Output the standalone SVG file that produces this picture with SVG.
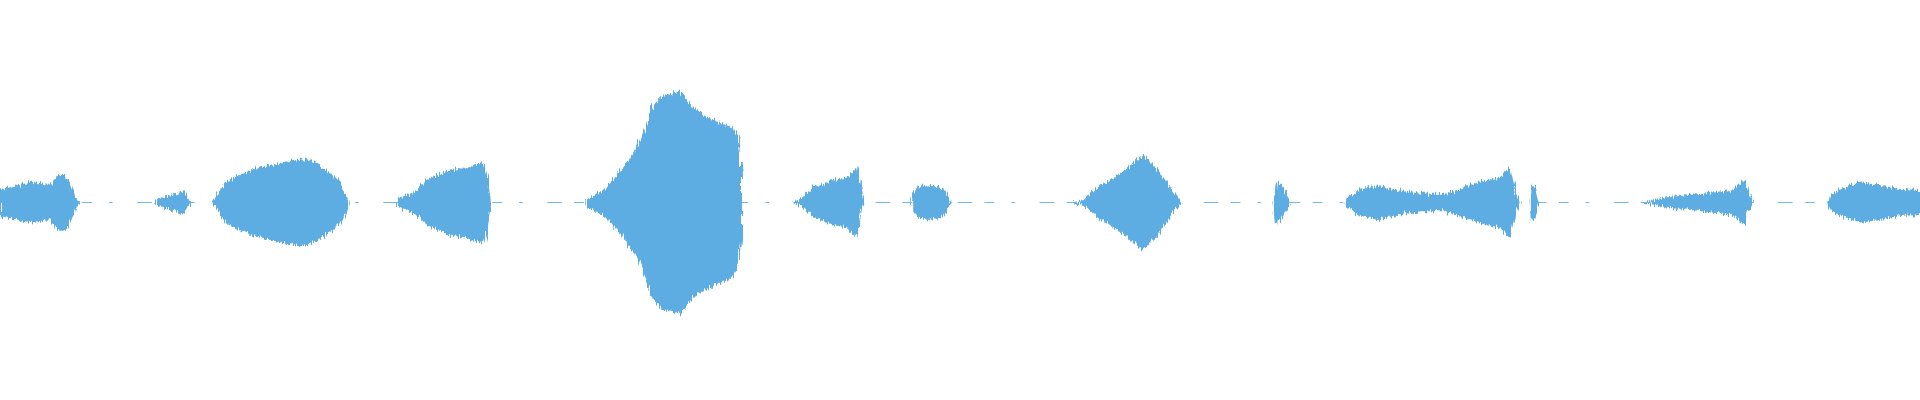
<svg xmlns="http://www.w3.org/2000/svg" width="1920" height="400" viewBox="0 0 1920 400">
<style>.w{fill:#5dade2}.c{stroke:#5dade2;stroke-width:0.7;stroke-dasharray:8 14 3 20 12 10}</style>
<defs><filter id="j" x="-5%" y="-20%" width="110%" height="140%"><feTurbulence type="fractalNoise" baseFrequency="0.9 0.05" numOctaves="2" seed="3"/><feDisplacementMap in="SourceGraphic" scale="7" yChannelSelector="R" xChannelSelector="G"/></filter></defs>
<rect width="1920" height="400" fill="#fff"/>
<g transform="scale(1.2245 1.25)">
<line class="c" x1="0" y1="162" x2="1568" y2="162"/>
<g filter="url(#j)" class="w">
<path d="M0,152 L10,149 20,147 30,146 40,148 48,140 53,140 58,148 62,158 65,162 62,166 58,176 53,186 48,184 40,176 30,178 20,177 10,175 0,172Z"/>
<path d="M127,160 L135,157 145,155 150,153 153,158 156,162 153,166 150,171 145,169 135,167 127,164Z"/>
<path d="M173,162 L178,155 185,145 200,138 215,133 230,130 245,127 252,128 262,133 272,140 280,148 285,162 280,176 272,184 262,191 252,196 245,197 230,194 215,191 200,186 185,179 178,169Z"/>
<path d="M325,158 L330,157 340,152 350,143 365,137 380,134 395,130 398,140 401,162 398,184 395,194 380,190 365,187 350,181 340,172 330,167 325,166Z"/>
<path d="M478,160 L490,154 500,145 510,132 520,118 528,100 533,85 540,77 550,75 555,72 565,85 575,92 585,97 598,102 603,110 606,140 606,162 606,184 603,214 598,222 585,227 575,232 565,239 555,252 550,249 540,247 533,239 528,224 520,206 510,192 500,179 490,170 478,164Z"/>
<path d="M648,162 L655,158 665,150 680,144 692,142 700,134 703,150 706,162 703,174 700,190 692,182 680,180 665,174 655,166Z"/>
<path d="M745,155 L750,150 760,148 770,151 777,162 770,173 760,176 750,174 745,169Z"/>
<path d="M875,162 L885,160 893,152 905,145 920,135 933,124 945,135 955,150 962,158 965,162 962,166 955,174 945,189 933,200 920,189 905,179 893,172 885,164Z"/>
<path d="M1040,162 L1042,145 1046,148 1052,158 1055,162 1052,166 1046,176 1042,179Z"/>
<path d="M1098,162 L1100,158 1110,152 1125,148 1140,152 1160,155 1180,155 1195,150 1210,145 1225,142 1233,133 1238,155 1242,162 1238,169 1233,191 1225,182 1210,179 1195,174 1180,169 1160,169 1140,172 1125,176 1110,172 1100,166Z"/>
<path d="M1250,162 L1251,148 1254,150 1257,162 1254,174 1251,176Z"/>
<path d="M1342,162 L1360,158 1390,155 1415,152 1425,143 1428,155 1432,162 1428,169 1425,181 1415,172 1390,169 1360,166Z"/>
<path d="M1493,162 L1495,156 1505,150 1520,146 1535,148 1550,151 1568,152 1568,172 1550,173 1535,176 1520,178 1505,174 1495,168Z"/>
</g></g>
</svg>
